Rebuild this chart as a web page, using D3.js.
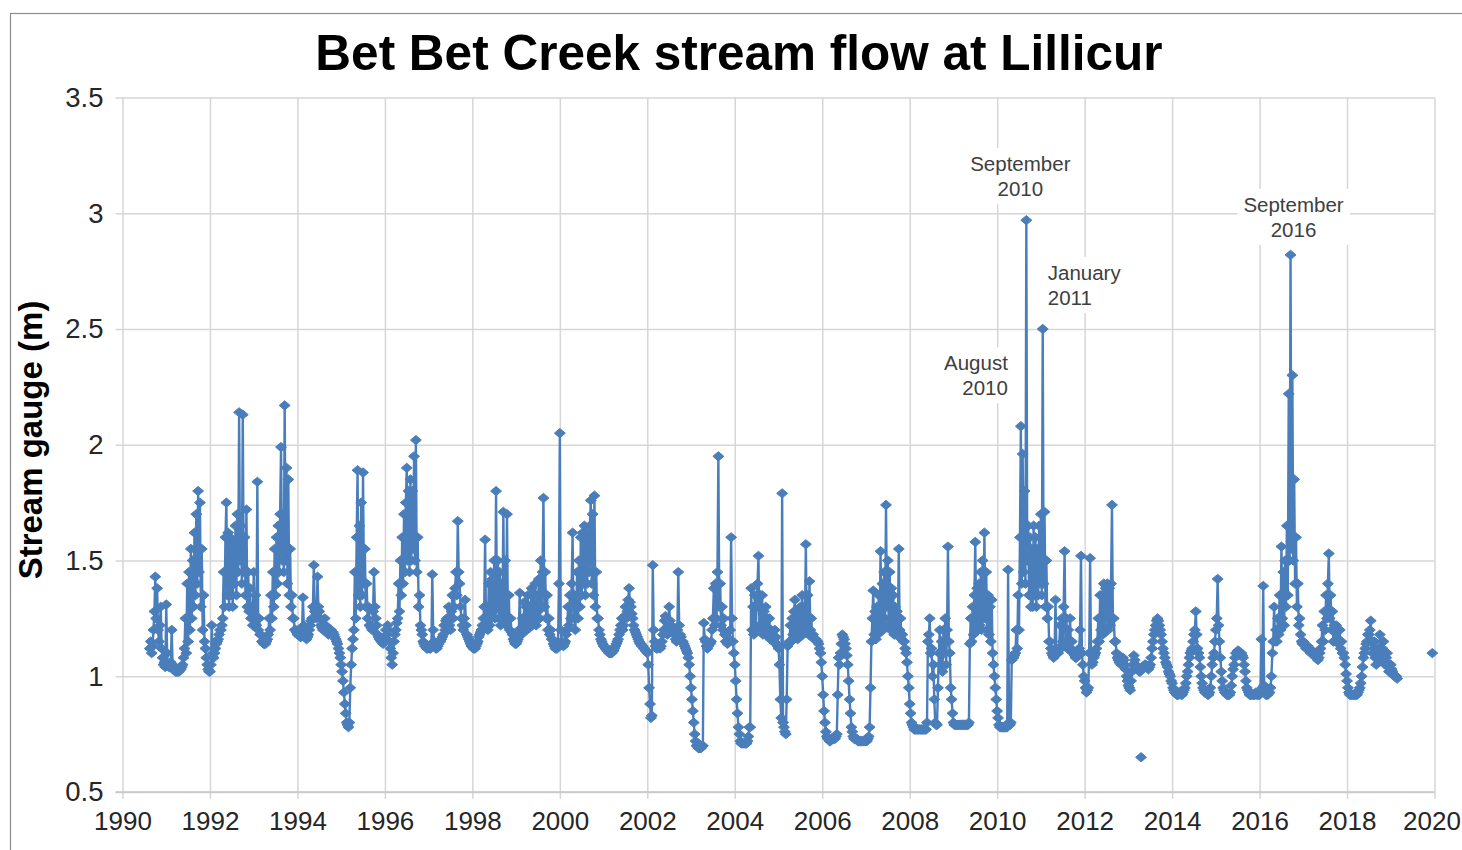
<!DOCTYPE html>
<html><head><meta charset="utf-8">
<script src="https://cdn.jsdelivr.net/npm/d3@7"></script>
<style>body{margin:0;background:#fff}svg{display:block}</style>
</head><body><svg id="c" width="1462" height="850"></svg>
<script>
// ---- DATA (readings every quarter month) ----
const titleText = "Bet Bet Creek stream flow at Lillicur";
const yTitle = "Stream gauge (m)";
const yearTicks = [1990,1992,1994,1996,1998,2000,2002,2004,2006,2008,2010,2012,2014,2016,2018,2020];
const gaugeTicks = [0.5,1,1.5,2,2.5,3,3.5];
const readingsPerYear = 48;
const firstReading1990 = 30; // series starts in mid-August 1990
const g1990 = [1.12,1.15,1.10,1.13,1.20,1.28,1.43,1.25,1.38,1.20,1.15,1.22,1.30,1.12,1.08,1.05,1.06,1.04];
const g1991 = [1.31,1.10,1.05,1.04,1.04,1.06,1.20,1.05,1.03,1.03,1.02,1.02,1.02,1.02,1.02,1.03,1.03,1.04,1.05,1.08,1.12,1.25,1.10,1.40,1.15,1.45,1.20,1.55,1.25,1.50,1.30,1.62,1.35,1.70,1.40,1.80,1.45,1.75,1.30,1.55,1.20,1.35,1.15,1.12,1.08,1.05,1.03,1.02];
const g1992 = [1.02,1.05,1.22,1.10,1.08,1.10,1.12,1.14,1.15,1.16,1.18,1.20,1.20,1.22,1.25,1.45,1.30,1.60,1.75,1.35,1.62,1.30,1.60,1.35,1.55,1.30,1.58,1.40,1.65,1.35,1.70,1.45,2.14,1.50,1.65,1.40,2.13,1.45,1.60,1.35,1.72,1.30,1.45,1.28,1.38,1.25,1.30,1.22];
const g1993 = [1.45,1.25,1.35,1.22,1.84,1.20,1.25,1.18,1.18,1.15,1.15,1.14,1.14,1.14,1.15,1.16,1.18,1.25,1.20,1.35,1.25,1.45,1.30,1.55,1.35,1.60,1.40,1.65,1.45,1.70,1.99,1.50,1.70,1.45,2.17,1.50,1.90,1.40,1.85,1.35,1.55,1.30,1.35,1.25,1.25,1.20,1.20,1.19];
const g1994 = [1.18,1.20,1.20,1.17,1.17,1.19,1.34,1.22,1.20,1.18,1.16,1.17,1.18,1.20,1.22,1.24,1.25,1.30,1.48,1.28,1.30,1.25,1.43,1.30,1.28,1.25,1.22,1.21,1.20,1.22,1.25,1.22,1.20,1.19,1.18,1.19,1.20,1.20,1.19,1.19,1.18,1.17,1.16,1.15,1.14,1.12,1.10,1.08];
const g1995 = [1.05,1.02,0.98,0.93,0.88,0.84,0.80,0.79,0.78,0.80,0.95,1.05,1.12,1.16,1.20,1.45,1.25,1.60,1.89,1.35,1.65,1.30,1.75,1.35,1.88,1.40,1.55,1.30,1.40,1.25,1.30,1.22,1.22,1.21,1.20,1.28,1.45,1.30,1.25,1.22,1.18,1.17,1.16,1.16,1.15,1.15,1.14,1.15];
const g1996 = [1.15,1.20,1.18,1.22,1.20,1.15,1.12,1.08,1.05,1.10,1.15,1.18,1.20,1.23,1.25,1.40,1.28,1.50,1.35,1.60,1.40,1.70,1.45,1.75,1.90,1.50,1.80,1.45,1.85,1.50,1.80,1.55,1.95,1.50,2.02,1.45,1.60,1.30,1.35,1.22,1.20,1.18,1.15,1.14,1.13,1.13,1.12,1.12];
const g1997 = [1.13,1.12,1.12,1.13,1.44,1.20,1.15,1.13,1.12,1.12,1.13,1.14,1.15,1.15,1.16,1.17,1.18,1.22,1.20,1.24,1.25,1.20,1.30,1.22,1.20,1.28,1.35,1.25,1.30,1.38,1.45,1.35,1.67,1.45,1.40,1.30,1.25,1.22,1.20,1.25,1.33,1.22,1.18,1.17,1.16,1.15,1.14,1.13];
const g1998 = [1.13,1.12,1.12,1.12,1.13,1.14,1.15,1.17,1.18,1.19,1.20,1.22,1.25,1.30,1.59,1.22,1.30,1.20,1.40,1.22,1.45,1.25,1.42,1.28,1.50,1.25,1.80,1.30,1.50,1.25,1.45,1.22,1.40,1.25,1.71,1.25,1.50,1.22,1.70,1.25,1.35,1.20,1.25,1.19,1.18,1.16,1.15,1.14];
const g1999 = [1.14,1.15,1.16,1.20,1.36,1.20,1.18,1.25,1.20,1.32,1.22,1.30,1.20,1.35,1.22,1.30,1.25,1.38,1.22,1.35,1.25,1.40,1.22,1.35,1.28,1.42,1.25,1.50,1.30,1.45,1.77,1.30,1.45,1.25,1.35,1.20,1.25,1.18,1.20,1.16,1.16,1.14,1.13,1.12,1.12,1.12,1.14,1.40];
const g2000 = [2.05,1.20,1.15,1.14,1.13,1.14,1.15,1.18,1.20,1.30,1.22,1.35,1.25,1.40,1.62,1.25,1.35,1.20,1.30,1.45,1.25,1.50,1.30,1.60,1.35,1.62,1.40,1.65,1.35,1.62,1.40,1.60,1.45,1.65,1.76,1.40,1.70,1.35,1.78,1.30,1.45,1.25,1.25,1.20,1.18,1.16,1.15,1.14];
const g2001 = [1.13,1.13,1.12,1.12,1.11,1.11,1.10,1.10,1.10,1.10,1.11,1.11,1.12,1.13,1.14,1.15,1.16,1.18,1.20,1.22,1.25,1.20,1.22,1.26,1.30,1.25,1.28,1.33,1.38,1.32,1.30,1.27,1.25,1.22,1.20,1.19,1.18,1.17,1.16,1.15,1.14,1.14,1.13,1.13,1.12,1.12,1.11,1.11];
const g2002 = [1.10,1.05,0.95,0.88,0.82,0.83,1.48,1.20,1.15,1.13,1.12,1.12,1.13,1.14,1.12,1.13,1.15,1.18,1.20,1.24,1.26,1.20,1.18,1.22,1.30,1.24,1.22,1.20,1.20,1.19,1.18,1.16,1.15,1.20,1.45,1.22,1.18,1.17,1.15,1.15,1.14,1.13,1.12,1.11,1.10,1.08,1.05,1.00];
const g2003 = [0.95,0.90,0.85,0.80,0.75,0.72,0.70,0.70,0.69,0.69,0.69,0.69,0.70,0.70,1.23,1.16,1.15,1.13,1.12,1.13,1.14,1.14,1.15,1.20,1.25,1.38,1.22,1.40,1.25,1.45,1.95,1.30,1.40,1.22,1.30,1.20,1.25,1.18,1.15,1.15,1.14,1.15,1.16,1.20,1.60,1.25,1.15,1.10];
const g2004 = [1.05,0.98,0.90,0.84,0.78,0.75,0.72,0.71,0.71,0.71,0.71,0.71,0.71,0.71,0.72,0.74,0.78,0.78,1.38,1.20,1.30,1.18,1.35,1.20,1.30,1.40,1.52,1.22,1.35,1.20,1.35,1.18,1.28,1.20,1.30,1.18,1.25,1.17,1.25,1.16,1.20,1.16,1.15,1.16,1.20,1.17,1.14,1.13];
const g2005 = [1.12,1.05,0.90,0.82,1.79,0.80,0.78,0.76,0.75,0.90,1.13,1.14,1.15,1.22,1.15,1.25,1.18,1.28,1.33,1.20,1.28,1.16,1.25,1.18,1.30,1.20,1.35,1.18,1.30,1.22,1.57,1.20,1.35,1.18,1.41,1.20,1.25,1.17,1.18,1.16,1.16,1.16,1.15,1.15,1.14,1.12,1.10,1.06];
const g2006 = [1.00,0.92,0.85,0.80,0.76,0.74,0.73,0.73,0.72,0.72,0.73,0.73,0.73,0.73,0.73,0.74,0.75,0.92,1.08,1.05,1.10,1.14,1.18,1.17,1.16,1.14,1.12,1.09,1.05,0.98,0.90,0.84,0.78,0.76,0.74,0.73,0.73,0.73,0.73,0.72,0.72,0.72,0.72,0.72,0.72,0.72,0.72,0.72];
const g2007 = [0.72,0.72,0.73,0.74,0.78,0.95,1.15,1.25,1.37,1.18,1.28,1.16,1.30,1.18,1.35,1.20,1.54,1.22,1.40,1.20,1.45,1.25,1.74,1.30,1.50,1.22,1.45,1.20,1.38,1.20,1.35,1.18,1.30,1.18,1.28,1.20,1.55,1.20,1.25,1.16,1.18,1.15,1.15,1.12,1.10,1.06,1.00,0.95];
const g2008 = [0.88,0.84,0.80,0.79,0.78,0.77,0.77,0.77,0.77,0.77,0.77,0.77,0.77,0.77,0.77,0.77,0.77,0.77,0.77,0.80,1.15,1.18,1.25,1.10,1.12,1.00,1.05,0.90,0.80,0.79,0.79,0.95,1.10,1.20,1.05,1.15,1.02,1.20,1.10,1.25,1.05,1.20,1.56,1.15,1.10,0.95,0.90,0.84];
const g2009 = [0.80,0.79,0.79,0.79,0.79,0.79,0.79,0.79,0.79,0.79,0.79,0.79,0.79,0.79,0.79,0.79,0.79,0.80,1.14,1.25,1.15,1.30,1.18,1.35,1.58,1.20,1.38,1.20,1.40,1.22,1.45,1.20,1.50,1.25,1.62,1.25,1.45,1.20,1.35,1.18,1.30,1.15,1.33,1.10,1.05,1.00,0.95,0.90];
const g2010 = [0.85,0.82,0.79,0.78,0.78,0.78,0.78,0.78,0.78,0.78,0.78,0.78,1.46,0.80,0.79,0.80,1.07,1.08,1.08,1.09,1.10,1.20,1.12,1.35,1.20,1.60,2.08,1.40,1.96,1.45,1.80,1.40,2.97,1.50,1.65,1.35,1.60,1.30,1.55,1.30,1.65,1.35,1.60,1.30,1.55,1.35,1.65,1.40];
const g2011 = [1.70,1.35,2.50,1.40,1.71,1.30,1.50,1.25,1.30,1.15,1.15,1.12,1.10,1.09,1.08,1.10,1.33,1.12,1.10,1.10,1.12,1.22,1.12,1.25,1.15,1.30,1.54,1.15,1.25,1.12,1.20,1.12,1.25,1.12,1.15,1.10,1.10,1.09,1.08,1.08,1.10,1.11,1.12,1.20,1.52,1.10,1.05,1.00];
const g2012 = [0.98,0.95,0.93,0.94,0.95,1.10,1.51,1.10,1.05,1.06,1.08,1.09,1.10,1.12,1.15,1.25,1.15,1.35,1.20,1.35,1.18,1.40,1.20,1.38,1.25,1.40,1.20,1.38,1.22,1.40,1.74,1.25,1.25,1.15,1.15,1.10,1.08,1.07,1.06,1.06,1.05,1.06,1.08,1.07,1.05,1.03,1.00,0.98];
const g2013 = [0.96,0.95,0.94,0.98,1.02,1.05,1.09,1.07,1.05,1.04,1.03,1.03,1.02,1.02,1.03,1.03,1.04,1.04,1.05,1.05,1.04,1.04,1.03,1.04,1.05,1.08,1.12,1.15,1.18,1.20,1.22,1.24,1.25,1.24,1.22,1.20,1.18,1.15,1.12,1.10,1.08,1.06,1.05,1.04,1.02,1.01,1.00,0.98];
const g2014 = [0.97,0.95,0.94,0.93,0.93,0.92,0.92,0.92,0.93,0.93,0.92,0.92,0.93,0.94,0.95,0.97,1.00,1.02,1.05,1.08,1.10,1.11,1.12,1.15,1.18,1.20,1.28,1.18,1.12,1.10,1.08,1.04,1.00,0.97,0.95,0.94,0.93,0.93,0.93,0.92,0.92,0.93,0.95,1.00,1.05,1.08,1.10,1.15];
const g2015 = [1.20,1.25,1.42,1.22,1.15,1.08,1.02,0.98,0.95,0.94,0.93,0.93,0.92,0.92,0.92,0.92,0.93,0.96,1.00,1.03,1.05,1.08,1.10,1.10,1.11,1.11,1.10,1.10,1.10,1.09,1.08,1.05,1.02,0.98,0.95,0.94,0.93,0.92,0.92,0.92,0.92,0.92,0.92,0.92,0.93,0.92,0.92,0.92];
const g2016 = [0.92,0.93,1.16,0.95,1.39,0.96,0.93,0.92,0.92,0.92,0.93,0.93,0.95,1.00,1.10,1.15,1.30,1.15,1.20,1.15,1.25,1.18,1.35,1.20,1.56,1.25,1.45,1.22,1.50,1.30,1.65,1.35,2.22,1.50,2.82,1.55,2.30,1.50,1.85,1.40,1.60,1.30,1.40,1.22,1.25,1.18,1.15,1.14];
const g2017 = [1.15,1.14,1.13,1.12,1.12,1.13,1.12,1.11,1.10,1.11,1.11,1.10,1.10,1.09,1.08,1.08,1.07,1.08,1.10,1.12,1.15,1.22,1.15,1.28,1.20,1.35,1.25,1.40,1.53,1.25,1.35,1.20,1.28,1.15,1.22,1.15,1.22,1.15,1.20,1.14,1.20,1.12,1.15,1.10,1.10,1.08,1.05,1.01];
const g2018 = [0.98,0.95,0.93,0.92,0.92,0.92,0.92,0.92,0.92,0.92,0.92,0.92,0.93,0.94,0.95,0.97,1.00,1.04,1.08,1.10,1.12,1.14,1.15,1.18,1.18,1.20,1.24,1.15,1.10,1.12,1.15,1.08,1.05,1.10,1.12,1.06,1.18,1.10,1.08,1.12,1.15,1.06,1.05,1.08,1.10,1.04,1.02,1.05];
const g2019 = [1.05,1.03,1.02,1.01,1.00,1.00,1.00,0.99];
const seriesYears = [1990,1991,1992,1993,1994,1995,1996,1997,1998,1999,2000,2001,2002,2003,2004,2005,2006,2007,2008,2009,2010,2011,2012,2013,2014,2015,2016,2017,2018,2019];
const seriesValues = [g1990,g1991,g1992,g1993,g1994,g1995,g1996,g1997,g1998,g1999,g2000,g2001,g2002,g2003,g2004,g2005,g2006,g2007,g2008,g2009,g2010,g2011,g2012,g2013,g2014,g2015,g2016,g2017,g2018,g2019];
const isolatedDates = [2013.29, 2019.95];
const isolatedValues = [0.65, 1.10];
const noteLines = [["September","2010"],["January","2011"],["August","2010"],["September","2016"]];
const noteDates = [2010.667, 2011.042, 2010.542, 2016.708];
const noteValues = [2.97, 2.50, 2.08, 2.82];

// ---- LAYOUT / STYLE ----
const noteStyle = [
  {anchor:"middle", dx:-6, dy:-24},
  {anchor:"start", dx:5, dy:-24},
  {anchor:"end", dx:-13, dy:-31},
  {anchor:"middle", dx:3, dy:-18}
];
const M = {left:122.5, right:1434.5, top:97.5, bottom:792};
const blue = "#4A7EBB";
const grid = "#d6d6d6";
const font = "Liberation Sans, Arial, sans-serif";

const svg = d3.select("#c");
svg.append("rect").attr("x",10.5).attr("y",13.5).attr("width",1480).attr("height",900)
   .attr("fill","#fff").attr("stroke","#8c8c8c").attr("stroke-width",1.2);

const x = d3.scaleLinear().domain([1990,2020]).range([M.left,M.right]);
const y = d3.scaleLinear().domain([0.5,3.5]).range([M.bottom,M.top]);
const plotW = M.right-M.left, plotH = M.bottom-M.top;

const ya = svg.append("g").attr("transform",`translate(${M.left-7},0)`)
  .call(d3.axisLeft(y).tickValues(gaugeTicks).tickFormat(d=>String(d)).tickSize(-(plotW+7)).tickPadding(12));
ya.select(".domain").remove();
ya.selectAll(".tick line").attr("stroke",grid).attr("stroke-width",1.5);
ya.selectAll(".tick text").attr("font-family",font).attr("font-size",27.5).attr("fill","#262626");

const xa = svg.append("g").attr("transform",`translate(0,${M.bottom+7})`)
  .call(d3.axisBottom(x).tickValues(yearTicks).tickFormat(d3.format("d")).tickSize(-(plotH+7)).tickPadding(13));
xa.select(".domain").remove();
xa.selectAll(".tick line").attr("stroke",grid).attr("stroke-width",1.5);
xa.selectAll(".tick text").attr("font-family",font).attr("font-size",26).attr("fill","#262626")
  .attr("dx",d=>d===2020?-3:0);

svg.append("line").attr("x1",M.left-7).attr("x2",M.right).attr("y1",y(0.5)).attr("y2",y(0.5))
   .attr("stroke","#c4c4c4").attr("stroke-width",1.5);

const pts = [];
seriesYears.forEach((yr,k)=>{
  const off = yr===1990 ? firstReading1990 : 0;
  seriesValues[k].forEach((v,i)=>pts.push({t: yr+(off+i)/readingsPerYear, v}));
});
const line = d3.line().x(d=>x(d.t)).y(d=>y(d.v));
svg.append("path").datum(pts).attr("d",line).attr("fill","none")
   .attr("stroke",blue).attr("stroke-width",2.4).attr("stroke-linejoin","round");

const iso = isolatedDates.map((t,i)=>({t, v:isolatedValues[i]}));
const diamond = {draw(ctx,size){const r=Math.sqrt(size)/2; ctx.moveTo(0,-r*0.85);ctx.lineTo(r,0);ctx.lineTo(0,r*0.85);ctx.lineTo(-r,0);ctx.closePath();}};
const sym = d3.symbol().type(diamond).size(120);
svg.append("g").selectAll("path").data(pts.concat(iso)).join("path")
   .attr("transform",d=>`translate(${x(d.t)},${y(d.v)})`).attr("d",sym)
   .attr("fill",blue).attr("stroke",blue).attr("stroke-width",1);

const notes = svg.append("g").attr("font-family",font).attr("font-size",20.5).attr("fill","#404040");
noteLines.forEach((lines,i)=>{
  const st = noteStyle[i];
  const px = x(noteDates[i])+st.dx, py = y(noteValues[i])+st.dy;
  const g = notes.append("g");
  const t = g.append("text").attr("text-anchor",st.anchor);
  lines.forEach((s,j)=>t.append("tspan").attr("x",px).attr("y",py-(lines.length-1-j)*25).text(s));
  const bb = t.node().getBBox();
  g.insert("rect","text").attr("x",bb.x-6).attr("y",bb.y-4).attr("width",bb.width+12).attr("height",bb.height+8).attr("fill","#fff");
});

svg.append("text").attr("x",739).attr("y",70).attr("text-anchor","middle")
   .attr("font-family",font).attr("font-weight","bold").attr("font-size",49.5)
   .attr("fill","#000").text(titleText);
svg.append("text").attr("transform","translate(42,440) rotate(-90)").attr("text-anchor","middle")
   .attr("font-family",font).attr("font-weight","bold").attr("font-size",33)
   .attr("fill","#000").text(yTitle);
</script></body></html>
